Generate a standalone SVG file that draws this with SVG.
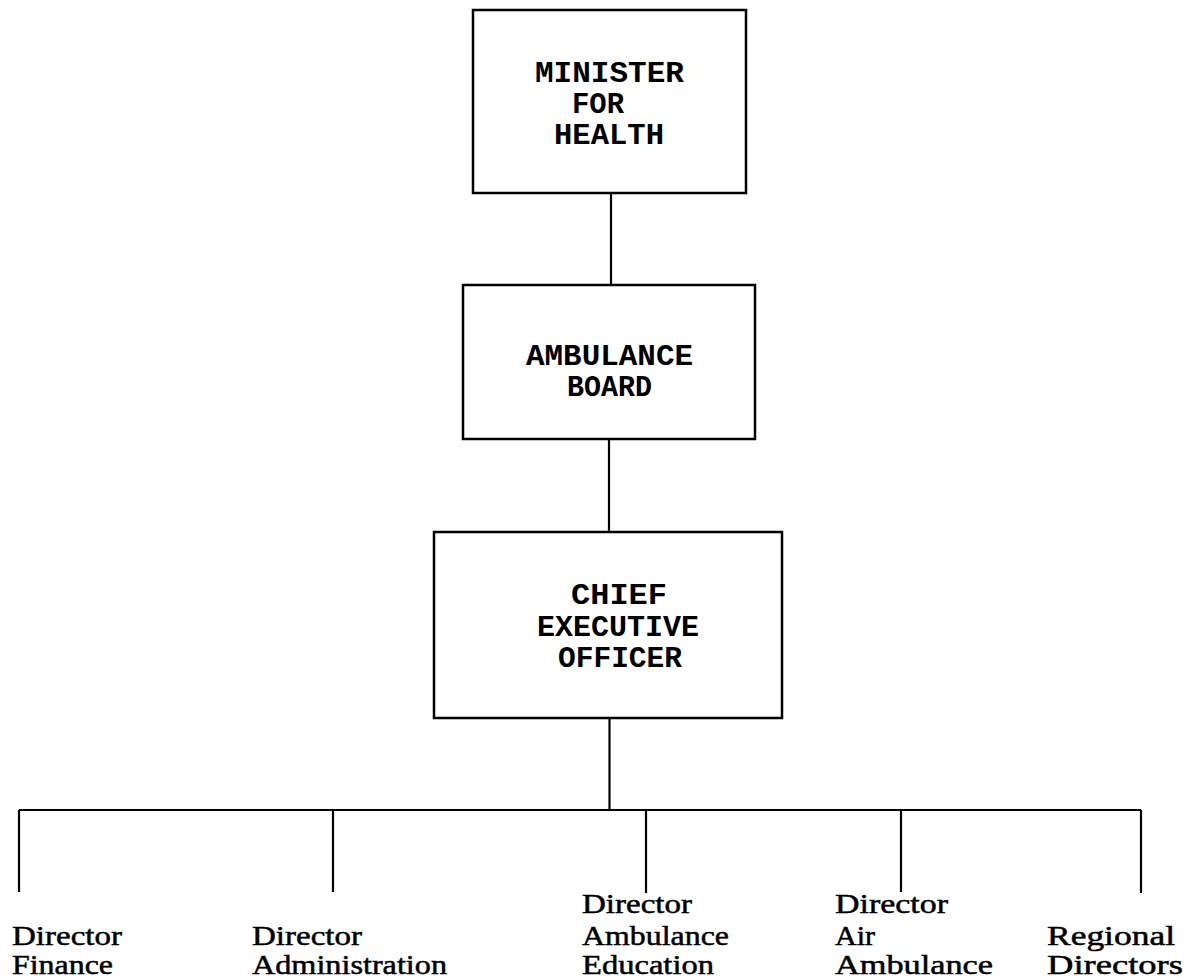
<svg xmlns="http://www.w3.org/2000/svg" width="1193" height="978" viewBox="0 0 1193 978">
<style>
.box{fill:#fff;stroke:#000;stroke-width:2.5}
.ln{stroke:#000;stroke-width:2.2;fill:none}
.t{font-family:"Liberation Mono","Courier New",monospace;font-weight:bold;font-size:29.5px;fill:#000}
.l{font-family:"Liberation Serif","Times New Roman",serif;font-size:28px;fill:#000;stroke:#000;stroke-width:0.5}
</style>
<rect width="1193" height="978" fill="#fff"/>
<g id="connectors">
<line class="ln" x1="611" y1="193" x2="611" y2="286"/>
<line class="ln" x1="609" y1="438" x2="609" y2="532"/>
<line class="ln" x1="609.5" y1="718" x2="609.5" y2="810"/>
<line class="ln" x1="19" y1="810" x2="1141" y2="810"/>
<line class="ln" x1="19" y1="810" x2="19" y2="892"/>
<line class="ln" x1="333" y1="810" x2="333" y2="892"/>
<line class="ln" x1="646" y1="810" x2="646" y2="893"/>
<line class="ln" x1="901" y1="810" x2="901" y2="892"/>
<line class="ln" x1="1141" y1="810" x2="1141" y2="893"/>
</g>
<g id="minister">
<rect class="box" x="473" y="10" width="273" height="183"/>
<text class="t" x="535" y="82" textLength="149" lengthAdjust="spacingAndGlyphs">MINISTER</text>
<text class="t" x="572" y="113" textLength="52" lengthAdjust="spacingAndGlyphs">FOR</text>
<text class="t" x="554" y="144" textLength="110" lengthAdjust="spacingAndGlyphs">HEALTH</text>
</g>
<g id="board">
<rect class="box" x="463" y="285" width="292" height="154"/>
<text class="t" x="526" y="365" textLength="167" lengthAdjust="spacingAndGlyphs">AMBULANCE</text>
<text class="t" x="567" y="396" textLength="85" lengthAdjust="spacingAndGlyphs">BOARD</text>
</g>
<g id="ceo">
<rect class="box" x="434" y="532" width="348" height="186"/>
<text class="t" x="571" y="604" textLength="96" lengthAdjust="spacingAndGlyphs">CHIEF</text>
<text class="t" x="537" y="636" textLength="162" lengthAdjust="spacingAndGlyphs">EXECUTIVE</text>
<text class="t" x="558" y="667" textLength="124" lengthAdjust="spacingAndGlyphs">OFFICER</text>
</g>
<g id="dir-finance">
<text class="l" x="12" y="945" textLength="110" lengthAdjust="spacingAndGlyphs">Director</text>
<text class="l" x="12" y="974" textLength="101" lengthAdjust="spacingAndGlyphs">Finance</text>
</g>
<g id="dir-admin">
<text class="l" x="252" y="945" textLength="110" lengthAdjust="spacingAndGlyphs">Director</text>
<text class="l" x="252" y="974" textLength="195" lengthAdjust="spacingAndGlyphs">Administration</text>
</g>
<g id="dir-education">
<text class="l" x="582" y="913" textLength="110" lengthAdjust="spacingAndGlyphs">Director</text>
<text class="l" x="582" y="945" textLength="147" lengthAdjust="spacingAndGlyphs">Ambulance</text>
<text class="l" x="582" y="974" textLength="132" lengthAdjust="spacingAndGlyphs">Education</text>
</g>
<g id="dir-air">
<text class="l" x="835" y="913" textLength="113" lengthAdjust="spacingAndGlyphs">Director</text>
<text class="l" x="835" y="945" textLength="40" lengthAdjust="spacingAndGlyphs">Air</text>
<text class="l" x="835" y="974" textLength="158" lengthAdjust="spacingAndGlyphs">Ambulance</text>
</g>
<g id="regional">
<text class="l" x="1047" y="945" textLength="128" lengthAdjust="spacingAndGlyphs">Regional</text>
<text class="l" x="1047" y="974" textLength="136" lengthAdjust="spacingAndGlyphs">Directors</text>
</g>
</svg>
